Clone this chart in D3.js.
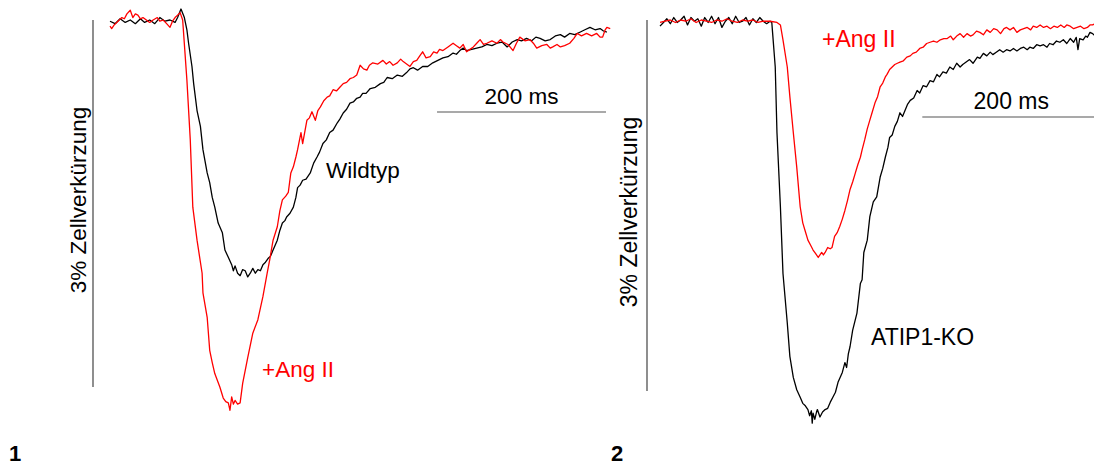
<!DOCTYPE html>
<html>
<head>
<meta charset="utf-8">
<script src="https://cdn.jsdelivr.net/npm/d3@7"></script>
<style>
  body { margin: 0; background: #fff; }
  text { font-family: "Liberation Sans", Arial, sans-serif; }
</style>
</head>
<body>
<script>
var w = 1094;
var h = 466;

// traces: [time in ms, cell shortening in %]
var wildtyp = [[0,0.01],[6,0.03],[12,-0.01],[18,0.02],[24,0],[30,0.03],[36,-0.01],[41,0.02],[47,0],[53,0.03],[59,-0.02],[65,0.01],[71,0],[77,0.02],[80,-0.02],[84,-0.09],[88,-0.02],[91,0.08],[93,0.19],[97,0.38],[99,0.52],[103,0.74],[107,0.87],[110,1.06],[115,1.25],[118,1.33],[121,1.45],[124,1.53],[128,1.66],[133,1.74],[136,1.88],[140,1.94],[144,2.0],[146,2.05],[148,2.01],[151,2.07],[154,2.09],[157,2.04],[160,2.05],[163,2.1],[166,2.07],[169,2.03],[172,2.07],[175,2.04],[178,2.05],[181,2.0],[184,1.98],[187,1.95],[190,1.93],[193,1.88],[198,1.8],[201,1.72],[204,1.66],[207,1.64],[209,1.61],[213,1.58],[217,1.53],[220,1.45],[222,1.37],[225,1.35],[228,1.31],[232,1.30],[237,1.25],[241,1.17],[245,1.12],[248,1.08],[252,1.01],[256,0.98],[260,0.92],[264,0.90],[269,0.84],[272,0.81],[276,0.76],[280,0.73],[284,0.68],[288,0.67],[292,0.64],[296,0.63],[299,0.60],[303,0.60],[308,0.56],[314,0.55],[320,0.52],[324,0.51],[328,0.47],[334,0.48],[340,0.45],[346,0.46],[351,0.43],[355,0.40],[359,0.39],[364,0.41],[370,0.38],[376,0.38],[382,0.35],[388,0.33],[394,0.31],[400,0.30],[406,0.27],[410,0.28],[414,0.25],[418,0.23],[422,0.25],[428,0.24],[434,0.23],[440,0.22],[446,0.20],[452,0.21],[458,0.19],[464,0.18],[470,0.22],[476,0.18],[482,0.16],[487,0.17],[493,0.15],[499,0.17],[504,0.14],[509,0.15],[515,0.17],[521,0.16],[527,0.13],[533,0.12],[538,0.14],[544,0.11],[550,0.12],[556,0.10],[562,0.08],[568,0.06],[574,0.08],[580,0.07],[584,0.09],[588,0.10]];

var wildtypAng = [[0,0.05],[2,0.07],[5,0.04],[8,0.02],[11,0.0],[14,-0.02],[17,-0.01],[20,-0.05],[24,-0.08],[27,-0.02],[30,-0.05],[33,-0.04],[36,-0.01],[39,-0.02],[43,0.0],[47,0.02],[51,0.0],[56,-0.02],[59,0.01],[63,0.0],[67,0.03],[71,0.06],[74,0.01],[77,-0.02],[80,-0.04],[83,-0.06],[86,0.0],[91,0.49],[95,0.98],[98,1.53],[103,1.80],[109,2.07],[110,2.23],[115,2.43],[118,2.70],[121,2.8],[124,2.89],[130,3.0],[134,3.09],[137,3.12],[140,3.13],[142,3.19],[144,3.08],[146,3.14],[148,3.11],[151,3.14],[154,3.13],[157,2.97],[163,2.76],[169,2.56],[175,2.45],[181,2.26],[186,2.07],[189,1.96],[193,1.80],[198,1.69],[201,1.56],[204,1.47],[208,1.44],[211,1.41],[214,1.25],[217,1.20],[220,1.12],[222,1.06],[226,0.92],[228,1.01],[233,0.82],[236,0.80],[239,0.75],[243,0.82],[246,0.74],[249,0.71],[253,0.66],[257,0.63],[260,0.62],[264,0.57],[268,0.58],[272,0.55],[276,0.52],[280,0.51],[284,0.48],[288,0.47],[292,0.45],[296,0.37],[300,0.40],[304,0.41],[307,0.37],[311,0.35],[317,0.36],[323,0.33],[327,0.36],[331,0.34],[335,0.37],[340,0.35],[344,0.32],[347,0.34],[351,0.36],[355,0.38],[359,0.34],[363,0.33],[367,0.29],[370,0.26],[374,0.31],[379,0.30],[383,0.26],[387,0.27],[390,0.24],[394,0.25],[400,0.22],[406,0.19],[410,0.21],[414,0.23],[418,0.20],[422,0.26],[426,0.24],[430,0.22],[434,0.19],[438,0.16],[442,0.20],[446,0.19],[452,0.17],[458,0.19],[462,0.16],[465,0.18],[471,0.20],[477,0.25],[481,0.19],[485,0.14],[491,0.17],[497,0.16],[501,0.19],[505,0.23],[511,0.21],[517,0.20],[521,0.23],[524,0.22],[529,0.20],[533,0.22],[538,0.21],[544,0.19],[549,0.15],[553,0.11],[558,0.13],[564,0.11],[570,0.13],[576,0.11],[580,0.14],[583,0.14],[586,0.08],[588,0.06],[592,0.07]];

var atip1ko = [[0,0.05],[4,0.02],[8,-0.01],[12,0.03],[16,-0.02],[20,0.02],[24,0.0],[28,-0.03],[32,0.04],[36,-0.02],[40,0.01],[44,-0.01],[48,0.05],[52,-0.02],[56,0.02],[60,-0.03],[64,0.03],[68,-0.02],[72,0.06],[76,0.01],[80,-0.02],[84,0.03],[88,-0.03],[92,0.02],[96,0.01],[100,-0.02],[104,0.04],[108,-0.01],[112,0.02],[116,-0.02],[120,0.01],[124,0.03],[128,0.01],[130,0.02],[131,0.11],[134,0.38],[136,0.91],[140,1.51],[143,2.05],[148,2.45],[151,2.72],[155,2.89],[159,2.99],[163,3.05],[166,3.10],[169,3.12],[172,3.15],[174,3.20],[176,3.16],[177,3.26],[178,3.18],[180,3.23],[182,3.17],[183,3.15],[185,3.19],[186,3.21],[189,3.17],[192,3.15],[195,3.14],[198,3.09],[201,3.05],[204,3.01],[207,2.93],[212,2.85],[215,2.77],[217,2.81],[219,2.70],[221,2.64],[224,2.51],[229,2.37],[233,2.13],[235,2.10],[237,1.88],[241,1.78],[244,1.59],[248,1.47],[252,1.43],[256,1.27],[259,1.20],[262,1.11],[265,1.03],[267,0.95],[270,0.93],[273,0.86],[276,0.82],[279,0.75],[282,0.78],[285,0.73],[288,0.68],[291,0.65],[295,0.63],[299,0.57],[302,0.59],[306,0.53],[310,0.54],[314,0.49],[318,0.50],[322,0.44],[325,0.46],[329,0.42],[333,0.43],[337,0.38],[341,0.40],[345,0.35],[349,0.38],[352,0.36],[356,0.34],[360,0.32],[364,0.35],[369,0.30],[372,0.31],[376,0.27],[380,0.29],[384,0.26],[387,0.28],[391,0.26],[395,0.24],[399,0.26],[403,0.24],[407,0.25],[411,0.23],[415,0.25],[419,0.23],[423,0.22],[427,0.24],[430,0.22],[434,0.23],[438,0.20],[442,0.21],[446,0.20],[450,0.22],[453,0.19],[457,0.20],[461,0.17],[465,0.18],[469,0.16],[473,0.19],[477,0.15],[481,0.18],[484,0.14],[486,0.24],[488,0.15],[492,0.16],[495,0.13],[497,0.14],[500,0.10],[503,0.11],[506,0.13]];

var atip1koAng = [[0,0.02],[6,0.01],[12,0.0],[18,0.02],[24,0.0],[30,0.01],[36,-0.01],[42,0.02],[48,0.0],[54,0.01],[60,0.02],[66,0.0],[72,0.01],[78,-0.01],[84,0.01],[90,0.02],[96,0.0],[102,0.01],[108,0.0],[114,0.02],[120,0.01],[128,0.01],[136,0.02],[140,0.04],[143,0.16],[148,0.38],[151,0.62],[155,0.91],[159,1.19],[163,1.51],[166,1.64],[169,1.71],[172,1.78],[175,1.82],[178,1.86],[181,1.89],[184,1.92],[186,1.90],[188,1.88],[190,1.90],[192,1.88],[195,1.84],[198,1.85],[200,1.84],[203,1.75],[206,1.72],[209,1.67],[212,1.61],[215,1.54],[218,1.46],[221,1.37],[224,1.31],[227,1.24],[230,1.17],[233,1.11],[235,1.05],[238,0.97],[241,0.88],[244,0.81],[247,0.74],[250,0.67],[253,0.62],[256,0.54],[259,0.51],[262,0.46],[264,0.44],[267,0.40],[270,0.38],[273,0.36],[276,0.35],[279,0.34],[283,0.33],[287,0.30],[291,0.29],[294,0.27],[298,0.26],[302,0.23],[306,0.22],[310,0.19],[314,0.18],[318,0.17],[322,0.18],[326,0.16],[330,0.15],[334,0.15],[338,0.13],[341,0.16],[345,0.13],[349,0.11],[353,0.14],[357,0.11],[361,0.13],[364,0.12],[368,0.09],[372,0.10],[376,0.12],[380,0.08],[384,0.10],[388,0.07],[392,0.08],[396,0.11],[400,0.07],[403,0.06],[407,0.08],[411,0.06],[415,0.10],[419,0.08],[423,0.07],[427,0.06],[431,0.08],[434,0.05],[438,0.06],[442,0.04],[446,0.06],[450,0.05],[454,0.07],[458,0.05],[462,0.06],[466,0.04],[470,0.06],[473,0.04],[477,0.05],[481,0.07],[485,0.06],[489,0.05],[493,0.07],[497,0.06],[500,0.04],[503,0.04],[506,0.03]];

// scale bars: 200 ms and 3 %
var timeBar = [387, 587];
var timeBarR = [305, 505];
var shortBar = [0, 3];

var svg = d3.select("body")
    .append("svg")
    .attr("width", w)
    .attr("height", h);

svg.append("rect")
    .attr("width", w)
    .attr("height", h)
    .attr("fill", "#fff");

function drawPanel(p) {
    var xScale = d3.scaleLinear().domain([0, 600]).range(p.xRange);
    var yScale = d3.scaleLinear().domain([0, 3]).range(p.yRange);

    var line = d3.line()
        .x(function(d) { return xScale(d[0]); })
        .y(function(d) { return yScale(d[1]); });

    var g = svg.append("g");

    // vertical scale bar
    g.append("line")
        .attr("x1", p.vbarX).attr("x2", p.vbarX)
        .attr("y1", yScale(shortBar[0])).attr("y2", yScale(shortBar[1]))
        .attr("stroke", "#444")
        .attr("stroke-width", 1.2);

    g.append("text")
        .attr("transform", "translate(" + p.vlabX + "," + p.vlabY + ") rotate(-90)")
        .attr("text-anchor", "middle")
        .attr("font-size", p.fs)
        .text("3% Zellverkürzung");

    // horizontal scale bar
    g.append("line")
        .attr("x1", xScale(p.tbar[0])).attr("x2", xScale(p.tbar[1]))
        .attr("y1", p.hbarY).attr("y2", p.hbarY)
        .attr("stroke", "#555")
        .attr("stroke-width", 1.2);

    g.append("text")
        .attr("x", (xScale(p.tbar[0]) + xScale(p.tbar[1])) / 2 + p.tlabDx)
        .attr("y", p.hbarY - 8)
        .attr("text-anchor", "middle")
        .attr("font-size", p.fs)
        .text("200 ms");

    // traces
    g.selectAll("path.trace")
        .data(p.traces)
        .enter()
        .append("path")
        .attr("class", "trace")
        .attr("d", function(d) { return line(d.values); })
        .attr("fill", "none")
        .attr("stroke", function(d) { return d.color; })
        .attr("stroke-width", 1.3)
        .attr("stroke-linejoin", "round");

    g.selectAll("text.lab")
        .data(p.labels)
        .enter()
        .append("text")
        .attr("class", "lab")
        .attr("x", function(d) { return d.x; })
        .attr("y", function(d) { return d.y; })
        .attr("fill", function(d) { return d.color; })
        .attr("font-size", p.fs)
        .text(function(d) { return d.text; });

    // panel number
    g.append("text")
        .attr("x", p.numX)
        .attr("y", 461)
        .attr("font-size", 22)
        .attr("font-weight", "bold")
        .text(p.num);
}

drawPanel({
    xRange: [110, 110 + 600 * 0.845],
    yRange: [20, 387],
    vbarX: 93, vlabX: 86, vlabY: 200,
    hbarY: 112, tbar: timeBar, tlabDx: 0,
    fs: 22.5,
    traces: [
        {values: wildtyp, color: "#000"},
        {values: wildtypAng, color: "#ff0000"}
    ],
    labels: [
        {text: "Wildtyp", x: 326, y: 178, color: "#000"},
        {text: "+Ang II", x: 262, y: 377, color: "#ff0000"}
    ],
    num: "1", numX: 9
});

drawPanel({
    xRange: [660, 660 + 600 * 0.86],
    yRange: [20, 391],
    vbarX: 647, vlabX: 637, vlabY: 212,
    hbarY: 117, tbar: timeBarR, tlabDx: 3,
    fs: 23,
    traces: [
        {values: atip1ko, color: "#000"},
        {values: atip1koAng, color: "#ff0000"}
    ],
    labels: [
        {text: "ATIP1-KO", x: 871, y: 345, color: "#000"},
        {text: "+Ang II", x: 822, y: 47, color: "#ff0000"}
    ],
    num: "2", numX: 611
});
</script>
</body>
</html>
